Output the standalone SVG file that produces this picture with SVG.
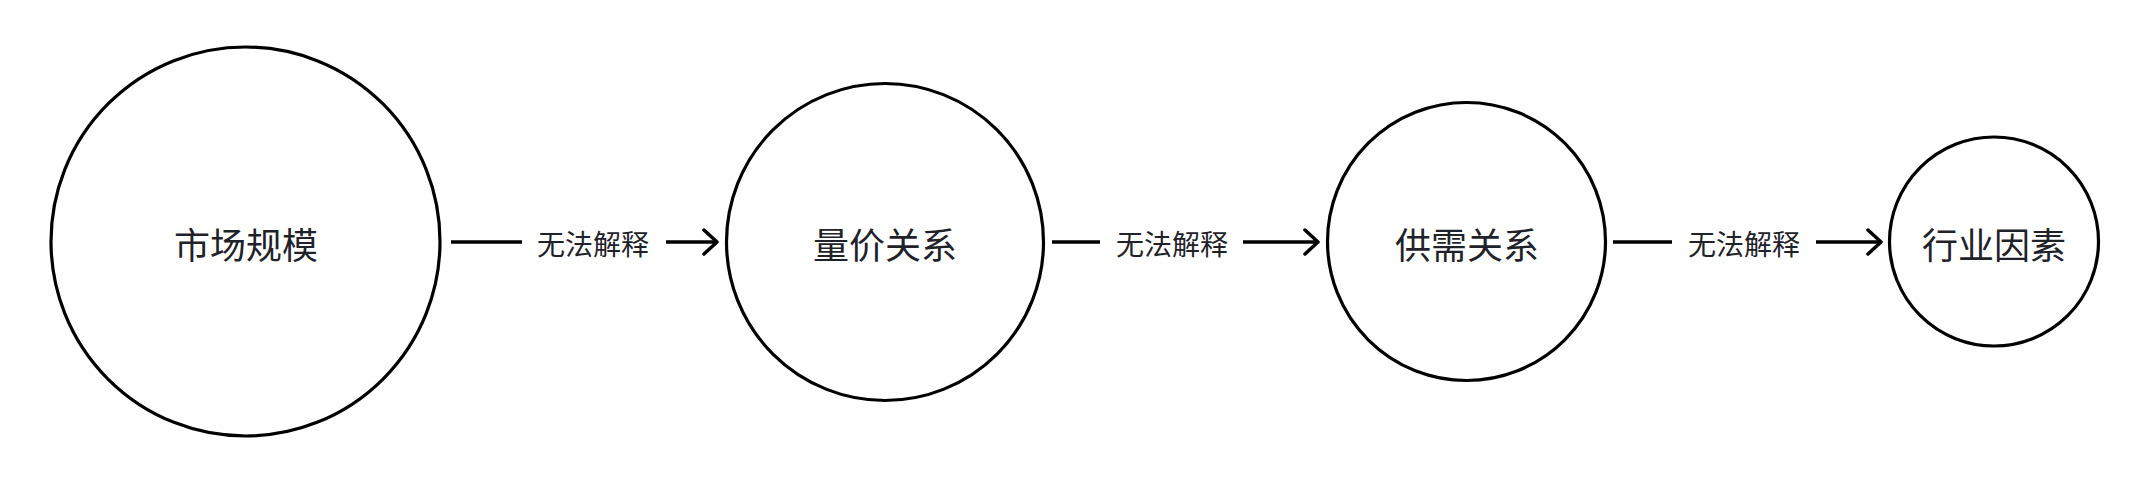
<svg xmlns="http://www.w3.org/2000/svg" width="2150" height="484" viewBox="0 0 2150 484">
<style>
.node{fill:#fff;stroke:#000;stroke-width:3.2}
.nl{font-family:"Noto Sans CJK SC","Noto Sans",sans-serif;font-size:36px;fill:#1f2329;text-anchor:middle;dominant-baseline:central}
.el{font-family:"Noto Sans CJK SC","Noto Sans",sans-serif;font-size:28px;fill:#1f2329;text-anchor:middle;dominant-baseline:central}
.ln{stroke:#000;stroke-width:3.5;fill:none}
.ah{stroke:#000;stroke-width:3.5;fill:none;stroke-linecap:round;stroke-linejoin:round}
</style>
<rect width="2150" height="484" fill="#fff"/>
<g id="n1"><circle class="node" cx="245.5" cy="241.5" r="194.5"/><text class="nl" x="246" y="243">市场规模</text></g>
<g id="n2"><circle class="node" cx="885" cy="242" r="158.5"/><text class="nl" x="885" y="243">量价关系</text></g>
<g id="n3"><circle class="node" cx="1466.5" cy="241.5" r="139"/><text class="nl" x="1467" y="243">供需关系</text></g>
<g id="n4"><circle class="node" cx="1994" cy="241.5" r="104.5"/><text class="nl" x="1994" y="243">行业因素</text></g>
<g id="connectors">
<line class="ln" x1="451" y1="242" x2="522" y2="242"/>
<text class="el" x="593" y="243">无法解释</text>
<line class="ln" x1="666" y1="242" x2="716" y2="242"/>
<polyline class="ah" points="704,230 717,242 704,254"/>
<line class="ln" x1="1052" y1="242" x2="1100" y2="242"/>
<text class="el" x="1172" y="243">无法解释</text>
<line class="ln" x1="1243" y1="242" x2="1317" y2="242"/>
<polyline class="ah" points="1305,230 1318,242 1305,254"/>
<line class="ln" x1="1613" y1="242" x2="1672" y2="242"/>
<text class="el" x="1744" y="243">无法解释</text>
<line class="ln" x1="1816" y1="242" x2="1880" y2="242"/>
<polyline class="ah" points="1868,230 1881,242 1868,254"/>
</g>
</svg>
